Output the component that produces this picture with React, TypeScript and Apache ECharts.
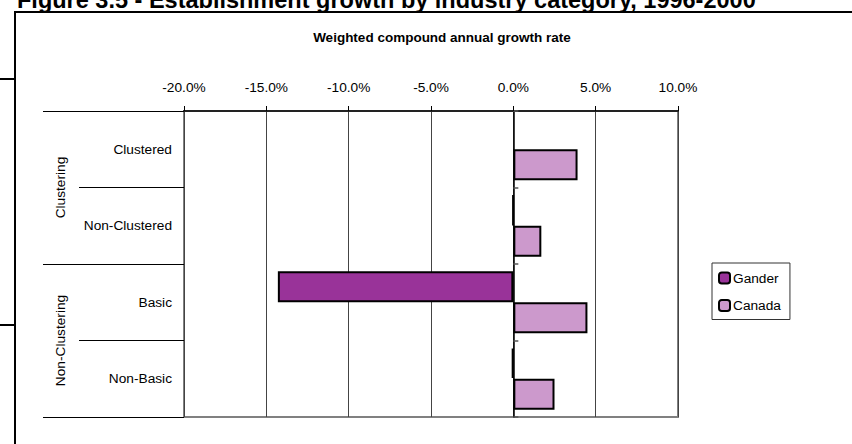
import React, { useEffect, useRef } from "react";
import * as echarts from "echarts";

const figureTitle = "Figure 3.5 - Establishment growth by industry category, 1996-2000";
const chartTitle = "Weighted compound annual growth rate";
const categories = ["Clustered", "Non-Clustered", "Basic", "Non-Basic"];
const groups = ["Clustering", "Non-Clustering"];
const seriesNames = ["Gander", "Canada"];
const ganderValues: (number | null)[] = [null, -0.03, -14.3, -0.08];
const canadaValues = [3.9, 1.7, 4.5, 2.5];
const xMin = -20;
const xMax = 10;
const xStep = 5;

const SANS = "'Liberation Sans', Arial, sans-serif";
const FS = 13.7;

export default function App() {
  const ref = useRef<HTMLDivElement>(null);
  useEffect(() => {
    if (!ref.current) return;
    const chart = echarts.init(ref.current, null, { renderer: "svg" });
    chart.setOption({
      animation: false,
      backgroundColor: "#ffffff",
      title: {
        text: chartTitle,
        left: 437,
        top: 25,
        textAlign: "center",
        textStyle: { fontFamily: SANS, fontSize: 13.5, fontWeight: "bold", color: "#000" },
      },
      graphic: [
        {
          type: "text",
          x: 17,
          y: 0,
          style: {
            text: figureTitle,
            fontFamily: SANS,
            fontSize: 23.5,
            fontWeight: "bold",
            fill: "#000",
            verticalAlign: "middle",
          },
        },
        { type: "line", shape: { x1: 14, y1: 12, x2: 852, y2: 12 }, style: { stroke: "#000", lineWidth: 2 } },
        { type: "line", shape: { x1: 15, y1: 12, x2: 15, y2: 444 }, style: { stroke: "#000", lineWidth: 2 } },
        { type: "line", shape: { x1: 0, y1: 79, x2: 15, y2: 79 }, style: { stroke: "#000", lineWidth: 2 } },
        { type: "line", shape: { x1: 0, y1: 325, x2: 15, y2: 325 }, style: { stroke: "#000", lineWidth: 2 } },
      ],
      legend: {
        data: seriesNames,
        orient: "vertical",
        left: 712,
        top: 263,
        padding: [8, 9, 7, 6],
        itemGap: 13.5,
        itemWidth: 11,
        itemHeight: 11,
        borderColor: "#333",
        borderWidth: 1,
        textStyle: { fontFamily: SANS, fontSize: FS, color: "#000", padding: [0, 0, 0, -2] },
      },
      grid: {
        left: 184,
        right: 174,
        top: 111,
        height: 306,
        show: true,
        borderColor: "#808080",
        borderWidth: 2,
        backgroundColor: "transparent",
      },
      xAxis: {
        type: "value",
        position: "top",
        min: xMin,
        max: xMax,
        interval: xStep,
        axisLine: { show: true, lineStyle: { color: "#222", width: 2 } },
        axisTick: { show: true, inside: false, length: 5, lineStyle: { color: "#000", width: 1 } },
        axisLabel: {
          formatter: (v: number) => v.toFixed(1) + "%",
          fontFamily: SANS,
          fontSize: FS,
          color: "#000",
          margin: 17,
        },
        splitLine: { show: true, lineStyle: { color: "#444", width: 1 } },
      },
      yAxis: [
        {
          type: "category",
          data: categories,
          inverse: true,
          position: "left",
          axisLine: { show: false, onZero: false },
          axisTick: { show: true, length: 105, lineStyle: { color: "#000", width: 1 } },
          axisLabel: { fontFamily: SANS, fontSize: FS, color: "#000", margin: 12 },
          splitLine: { show: false },
        },
        {
          type: "category",
          data: groups,
          inverse: true,
          position: "left",
          axisLine: { show: false, onZero: false },
          axisTick: { show: true, length: 141, lineStyle: { color: "#000", width: 1 } },
          axisLabel: { fontFamily: SANS, fontSize: FS, color: "#000", margin: 117, rotate: 90 },
          splitLine: { show: false },
        },
        {
          type: "category",
          data: categories,
          inverse: true,
          axisLine: { show: true, onZero: true, lineStyle: { color: "#000", width: 1.5 } },
          axisTick: { show: true, length: 5, lineStyle: { color: "#555", width: 1.5 } },
          axisLabel: { show: false },
          splitLine: { show: false },
        },
      ],
      series: [
        {
          name: seriesNames[0],
          type: "bar",
          yAxisIndex: 0,
          data: ganderValues,
          barGap: "0%",
          barCategoryGap: "19%",
          itemStyle: { color: "#993399", borderColor: "#000", borderWidth: 2 },
        },
        {
          name: seriesNames[1],
          type: "bar",
          yAxisIndex: 0,
          data: canadaValues,
          barGap: "0%",
          barCategoryGap: "19%",
          itemStyle: { color: "#CC99CC", borderColor: "#000", borderWidth: 2 },
        },
      ],
    });
    return () => chart.dispose();
  }, []);
  return (
    <div
      ref={ref}
      style={{ position: "fixed", left: 0, top: 0, width: 852, height: 444, background: "#fff" }}
    />
  );
}
